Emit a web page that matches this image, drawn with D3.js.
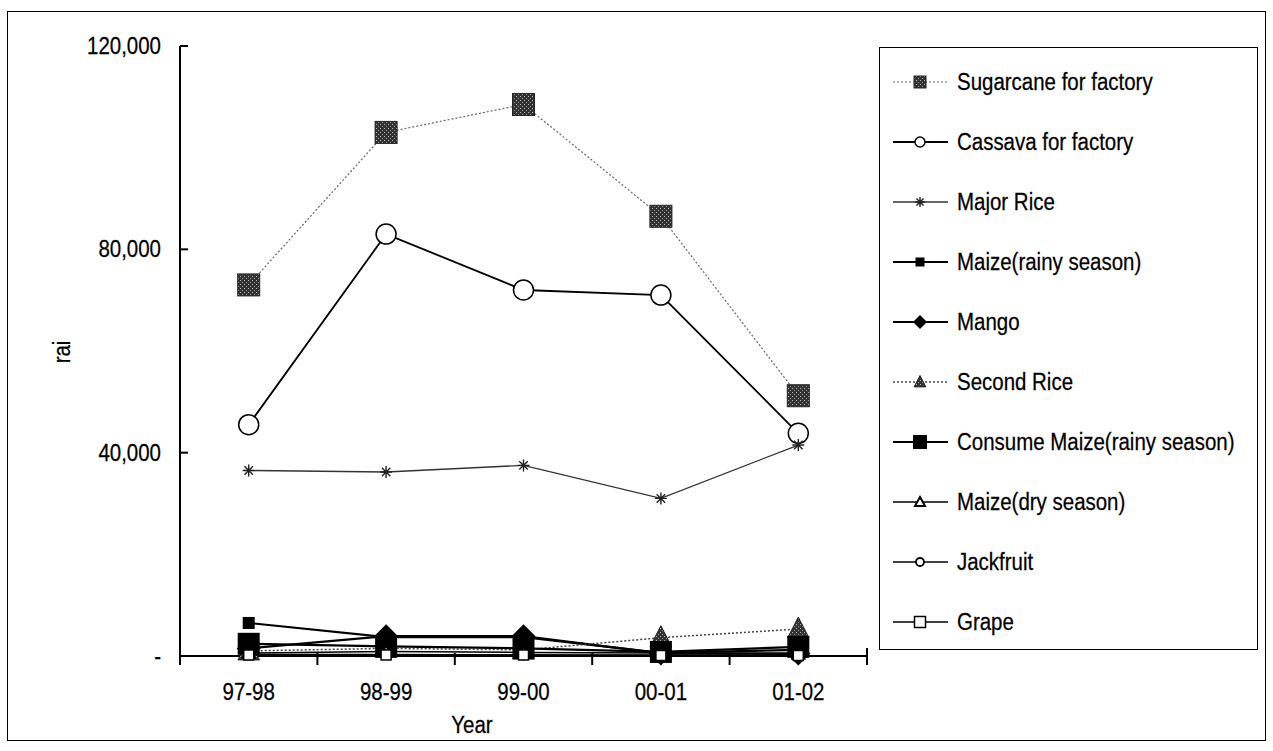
<!DOCTYPE html>
<html>
<head>
<meta charset="utf-8">
<script src="https://cdn.jsdelivr.net/npm/d3@7"></script>
<style>
  html, body { margin: 0; padding: 0; background: #fff; }
  svg { display: block; }
  text { font-family: "Liberation Sans", Arial, sans-serif; fill: #000; stroke: #000; stroke-width: 0.25px; }
</style>
</head>
<body>
<svg id="chart" width="1273" height="751"></svg>
<script>
// ---- data ----
const years = ["97-98", "98-99", "99-00", "00-01", "01-02"];
const yTicks = [0, 40000, 80000, 120000];
const yTickLabels = ["-", "40,000", "80,000", "120,000"];
const seriesNames = [
  "Sugarcane for factory", "Cassava for factory", "Major Rice",
  "Maize(rainy season)", "Mango", "Second Rice",
  "Consume Maize(rainy season)", "Maize(dry season)", "Jackfruit", "Grape"
];
const sugarcane   = [73000, 103000, 108500, 86500, 51200];
const cassava     = [45500, 83000, 72000, 71000, 43800];
const majorRice   = [36500, 36200, 37500, 31000, 41500];
const maizeRainy  = [6500, 3700, 3700, 600, 1200];
const mango       = [1500, 3900, 3900, 500, 500];
const secondRice  = [1000, 1500, 1200, 3600, 5300];
const consumeMaize= [2400, 1900, 1500, 800, 1800];
const maizeDry    = [600, 900, 700, 600, 400];
const jackfruit   = [300, 300, 200, 200, 200];
const grape       = [200, 200, 200, 100, 100];
const seriesValues = [sugarcane, cassava, majorRice, maizeRainy, mango,
  secondRice, consumeMaize, maizeDry, jackfruit, grape];

// ---- styles ----
const styles = [
  {marker: "squareStipple", size: 22, lsize: 12, stroke: "#666", width: 1.2, dash: "2,2"},
  {marker: "circleOpen", size: 22, lsize: 12, stroke: "#000", width: 1.8, dash: null},
  {marker: "star", size: 12, lsize: 10, stroke: "#333", width: 1.3, dash: null},
  {marker: "square", size: 12, lsize: 9, stroke: "#000", width: 2.2, dash: null},
  {marker: "diamond", size: 24, lsize: 14, stroke: "#000", width: 2.2, dash: null},
  {marker: "triangleStipple", size: 24, lsize: 13, stroke: "#444", width: 1.5, dash: "2,2"},
  {marker: "square", size: 22, lsize: 14, stroke: "#000", width: 2.2, dash: null},
  {marker: "triangleSmall", size: 12, lsize: 10, stroke: "#000", width: 1.5, dash: null},
  {marker: "circleSmall", size: 9, lsize: 8, stroke: "#000", width: 1.5, dash: null},
  {marker: "squareOpen", size: 10, lsize: 11, stroke: "#000", width: 1.5, dash: null}
];

const svg = d3.select("#chart");
const defs = svg.append("defs");
const pat = defs.append("pattern").attr("id", "stip").attr("width", 4).attr("height", 4)
  .attr("patternUnits", "userSpaceOnUse");
pat.append("rect").attr("width", 4).attr("height", 4).attr("fill", "#333");
pat.append("rect").attr("x", 0).attr("y", 0).attr("width", 1).attr("height", 1).attr("fill", "#bbb");
pat.append("rect").attr("x", 2).attr("y", 2).attr("width", 1).attr("height", 1).attr("fill", "#999");

const FS = 23, SX = 0.89;
function addText(g, x, y, str, anchor, rotate) {
  return g.append("text")
    .attr("transform", `translate(${x},${y})${rotate ? " rotate(" + rotate + ")" : ""} scale(${SX},1)`)
    .attr("text-anchor", anchor || "start")
    .attr("font-size", FS)
    .text(str);
}

// outer frame
svg.append("rect").attr("x", 7.5).attr("y", 11.5).attr("width", 1258).attr("height", 729)
  .attr("fill", "none").attr("stroke", "#000").attr("stroke-width", 1);

// scales
const x0 = 180, x1 = 867, yTop = 46, yBot = 656;
const x = d3.scalePoint().domain(years).range([x0, x1]).padding(0.5);
const band = (x1 - x0) / years.length;
const y = d3.scaleLinear().domain([0, 120000]).range([yBot, yTop]);

// axes
const axes = svg.append("g");
axes.append("line").attr("x1", x0).attr("x2", x0).attr("y1", yTop).attr("y2", yBot)
  .attr("stroke", "#000").attr("stroke-width", 2);
axes.append("line").attr("x1", x0).attr("x2", x1).attr("y1", yBot).attr("y2", yBot)
  .attr("stroke", "#000").attr("stroke-width", 2);
yTicks.forEach((t, i) => {
  axes.append("line").attr("x1", x0).attr("x2", x0 + 8).attr("y1", y(t)).attr("y2", y(t))
    .attr("stroke", "#000").attr("stroke-width", 2);
  addText(axes, 161, y(t) + 8, yTickLabels[i], "end");
});
d3.range(years.length + 1).forEach(i => {
  const xx = x0 + i * band;
  axes.append("line").attr("x1", xx).attr("x2", xx)
    .attr("y1", i === years.length ? yBot - 8 : yBot - 3).attr("y2", yBot + 9)
    .attr("stroke", "#000").attr("stroke-width", 2);
});
years.forEach(yr => addText(axes, x(yr), 700, yr, "middle"));
addText(axes, 472, 733, "Year", "middle");
addText(axes, 70, 352, "rai", "middle", -90);

// marker drawing
function drawMarker(g, type, s, cx, cy) {
  const h = s / 2;
  switch (type) {
    case "squareStipple":
      g.append("rect").attr("x", cx - h).attr("y", cy - h).attr("width", s).attr("height", s)
        .attr("fill", "url(#stip)").attr("stroke", "#222").attr("stroke-width", 1); break;
    case "circleOpen":
      g.append("circle").attr("cx", cx).attr("cy", cy).attr("r", h - 1)
        .attr("fill", "#fff").attr("stroke", "#000").attr("stroke-width", 1.5); break;
    case "star": {
      const p = d3.path();
      for (let k = 0; k < 4; k++) {
        const a = k * Math.PI / 4;
        p.moveTo(cx - h * Math.cos(a), cy - h * Math.sin(a));
        p.lineTo(cx + h * Math.cos(a), cy + h * Math.sin(a));
      }
      g.append("path").attr("d", p.toString()).attr("stroke", "#222").attr("stroke-width", 1.4);
      break;
    }
    case "square":
      g.append("rect").attr("x", cx - h).attr("y", cy - h).attr("width", s).attr("height", s)
        .attr("fill", "#000"); break;
    case "diamond":
      g.append("path").attr("d", `M${cx},${cy - h}L${cx + h},${cy}L${cx},${cy + h}L${cx - h},${cy}Z`)
        .attr("fill", "#000"); break;
    case "triangleStipple":
      g.append("path").attr("d", `M${cx},${cy - h}L${cx + h * 0.9},${cy + h * 0.75}L${cx - h * 0.9},${cy + h * 0.75}Z`)
        .attr("fill", "url(#stip)").attr("stroke", "#222").attr("stroke-width", 1); break;
    case "triangleSmall":
      g.append("path").attr("d", `M${cx},${cy - h}L${cx + h},${cy + h * 0.8}L${cx - h},${cy + h * 0.8}Z`)
        .attr("fill", "#fff").attr("stroke", "#000").attr("stroke-width", 2); break;
    case "circleSmall":
      g.append("circle").attr("cx", cx).attr("cy", cy).attr("r", h)
        .attr("fill", "#fff").attr("stroke", "#000").attr("stroke-width", 1.8); break;
    case "squareOpen":
      g.append("rect").attr("x", cx - h).attr("y", cy - h).attr("width", s).attr("height", s)
        .attr("fill", "#fff").attr("stroke", "#000").attr("stroke-width", 1.5); break;
  }
}

// series
const plot = svg.append("g");
const line = d3.line().x((d, i) => x(years[i])).y(d => y(d));
seriesValues.forEach((vals, si) => {
  const st = styles[si];
  const g = plot.append("g");
  g.append("path").attr("d", line(vals)).attr("fill", "none")
    .attr("stroke", st.stroke).attr("stroke-width", st.width)
    .attr("stroke-dasharray", st.dash);
  vals.forEach((v, i) => drawMarker(g, st.marker, st.size, x(years[i]), y(v)));
});

// legend
const leg = svg.append("g");
leg.append("rect").attr("x", 879.5).attr("y", 47.5).attr("width", 378).attr("height", 602)
  .attr("fill", "#fff").attr("stroke", "#000").attr("stroke-width", 1);
seriesNames.forEach((name, i) => {
  const st = styles[i];
  const cy = 82 + i * 60;
  leg.append("line").attr("x1", 893).attr("x2", 948).attr("y1", cy).attr("y2", cy)
    .attr("stroke", st.stroke).attr("stroke-width", st.width)
    .attr("stroke-dasharray", st.dash);
  drawMarker(leg, st.marker, st.lsize, 920, cy);
  addText(leg, 957, cy + 8, name, "start");
});
</script>
</body>
</html>
